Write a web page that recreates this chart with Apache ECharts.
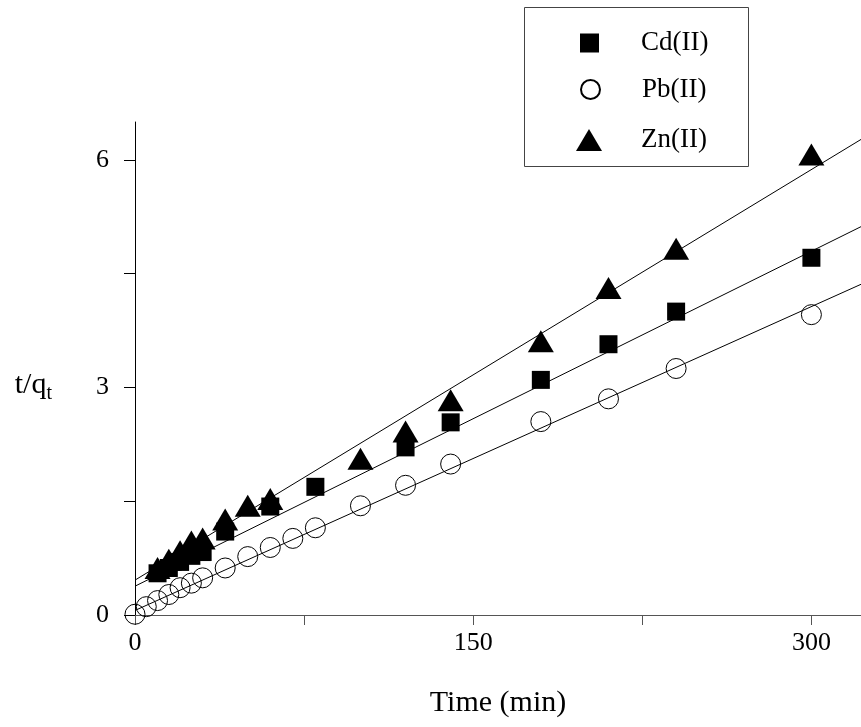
<!DOCTYPE html>
<html>
<head>
<meta charset="utf-8">
<title>t/qt vs Time</title>
<script src="https://cdn.jsdelivr.net/npm/echarts@6/dist/echarts.min.js"></script>
<style>
  html, body { margin: 0; padding: 0; background: #fff; }
  #main { width: 861px; height: 727px; }
</style>
</head>
<body>
<div id="main"></div>
<script>
// 数据
var cdTime = [10, 15, 20, 25, 30, 40, 60, 80, 120, 140, 180, 210, 240, 300];
var cdVal  = [0.55, 0.62, 0.70, 0.78, 0.83, 1.10, 1.43, 1.69, 2.21, 2.54, 3.10, 3.57, 4.00, 4.71];

var pbTime = [0, 5, 10, 15, 20, 25, 30, 40, 50, 60, 70, 80, 100, 120, 140, 180, 210, 240, 300];
var pbVal  = [0.01, 0.11, 0.19, 0.27, 0.36, 0.42, 0.49, 0.62, 0.77, 0.89, 1.01, 1.15, 1.44, 1.71, 1.99, 2.55, 2.85, 3.25, 3.96];

var znTime = [10, 15, 20, 25, 30, 40, 50, 60, 100, 120, 140, 180, 210, 240, 300];
var znVal  = [0.62, 0.73, 0.84, 0.97, 1.01, 1.26, 1.44, 1.53, 2.06, 2.42, 2.83, 3.61, 4.31, 4.83, 6.07];

// 拟合直线两端（x=0 与 x=322 处读数）
var fitTime = [0, 322];
var cdFit = [0.38, 5.12];
var pbFit = [0.06, 4.36];
var znFit = [0.46, 6.27];

var xTicks = [0, 75, 150, 225, 300];
var xLabels = [0, 150, 300];
var yTicks = [0, 1.5, 3, 4.5, 6];
var yLabels = [0, 3, 6];

function pairs(xs, ys) {
    var out = [];
    for (var i = 0; i < xs.length; i++) out.push([xs[i], ys[i]]);
    return out;
}

var FONT = 'Liberation Serif';
var myChart = echarts.init(document.getElementById('main'));

function fitLine(name, ys) {
    return {
        name: name,
        type: 'line',
        data: pairs(fitTime, ys),
        showSymbol: false,
        symbol: 'none',
        silent: true,
        z: 5,
        lineStyle: { color: '#000', width: 1 }
    };
}

// 每个图例项单独一个 legend，方便控制图标大小
function oneLegend(name, w, h, top, left, padLeft) {
    return {
        data: [name],
        orient: 'vertical',
        left: left,
        top: top,
        padding: 0,
        itemWidth: w,
        itemHeight: h,
        selectedMode: false,
        textStyle: {
            fontFamily: FONT,
            fontSize: 27,
            lineHeight: 27,
            color: '#000',
            padding: [0, 0, 9, padLeft]
        }
    };
}

var option = {
    animation: false,
    backgroundColor: '#fff',
    grid: { left: 135, right: 0, top: 122, bottom: 112 },
    xAxis: {
        type: 'value',
        min: 0,
        max: 322,
        name: 'Time (min)',
        nameLocation: 'middle',
        nameGap: 73,
        nameTextStyle: { fontFamily: FONT, fontSize: 30, color: '#000' },
        splitLine: { show: false },
        axisLine: { lineStyle: { color: '#555', width: 1 } },
        axisTick: { show: true, inside: false, length: 10, customValues: xTicks, lineStyle: { color: '#555' } },
        axisLabel: { customValues: xLabels, margin: 15, fontFamily: FONT, fontSize: 26, color: '#000' }
    },
    yAxis: {
        type: 'value',
        min: 0,
        max: 6.5,
        name: '{a|t/q}{b|t}',
        nameLocation: 'middle',
        nameRotate: 0,
        nameGap: 83,
        nameTextStyle: {
            align: 'right',
            padding: [33, 0, 0, 0],
            rich: {
                a: { fontFamily: FONT, fontSize: 30, color: '#000', lineHeight: 38 },
                b: { fontFamily: FONT, fontSize: 20, color: '#000', lineHeight: 20, verticalAlign: 'bottom' }
            }
        },
        splitLine: { show: false },
        axisLine: { lineStyle: { color: '#000', width: 1 } },
        axisTick: { show: true, inside: false, length: 11, customValues: yTicks, lineStyle: { color: '#000' } },
        axisLabel: { customValues: yLabels, margin: 26, fontFamily: FONT, fontSize: 26, color: '#000' }
    },
    legend: [
        oneLegend('Cd(II)', 19, 19, 25, 580, 37),
        oneLegend('Pb(II)', 19, 19, 71.5, 580, 37),
        oneLegend('Zn(II)', 26, 22, 122, 576, 34)
    ],
    graphic: [{
        type: 'rect',
        shape: { x: 524.5, y: 7.5, width: 224, height: 159 },
        style: { fill: 'none', stroke: '#444', lineWidth: 1 },
        z: 10
    }],
    series: [
        {
            name: 'Cd(II)',
            type: 'scatter',
            symbol: 'rect',
            symbolSize: 18,
            data: pairs(cdTime, cdVal),
            itemStyle: { color: '#000', opacity: 1 },
            z: 2
        },
        {
            name: 'Pb(II)',
            type: 'scatter',
            symbol: 'circle',
            symbolSize: 20,
            data: pairs(pbTime, pbVal),
            itemStyle: { color: 'rgba(0,0,0,0)', borderColor: '#000', borderWidth: 1, opacity: 1 },
            z: 2
        },
        {
            name: 'Zn(II)',
            type: 'scatter',
            symbol: 'triangle',
            symbolSize: [26, 22],
            data: pairs(znTime, znVal),
            itemStyle: { color: '#000', opacity: 1 },
            z: 3
        },
        fitLine('fitCd', cdFit),
        fitLine('fitPb', pbFit),
        fitLine('fitZn', znFit)
    ]
};

myChart.setOption(option);
</script>
</body>
</html>
